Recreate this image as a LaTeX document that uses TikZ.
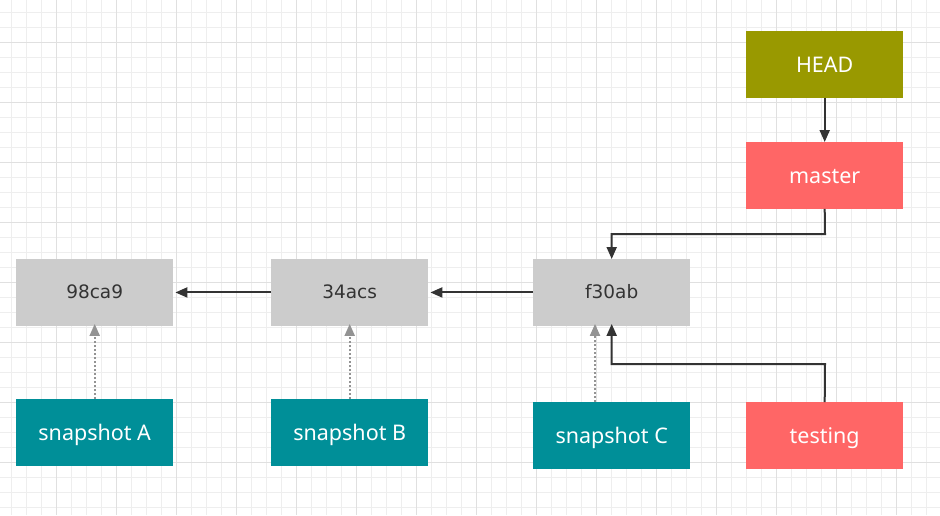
\documentclass[tikz,border=0pt]{standalone}
\usepackage{fontspec}
\setmainfont{Noto Sans}
\newfontfamily\grayfont{DejaVu Sans}
\usetikzlibrary{arrows.meta}
\definecolor{headc}{RGB}{153,153,0}
\definecolor{redc}{RGB}{255,102,102}
\definecolor{tealc}{RGB}{0,143,152}
\definecolor{grayc}{RGB}{204,204,204}
\definecolor{txtc}{RGB}{51,51,51}
\definecolor{minorg}{RGB}{238,238,238}
\definecolor{majorg}{RGB}{224,224,224}
\tikzset{
  box/.style={minimum width=157pt,minimum height=66.5pt,inner sep=0pt,anchor=north west,text depth=0pt},
  commitbox/.style={box,fill=grayc,text=txtc,font=\grayfont\fontsize{18.5}{21}\selectfont,text height=13pt},
  refbox/.style={box,text=white,font=\fontsize{21.5}{25}\selectfont,text height=15.4pt},
  link/.style={draw=txtc,line width=2pt,-{Triangle[length=12pt,width=10pt]}},
  snaplink/.style={draw=gray!85,line width=2pt,dotted,-{Triangle[length=12pt,width=10pt,fill=gray!85]}}
}
\begin{document}
\begin{tikzpicture}[x=1pt,y=-1pt]
\useasboundingbox (0,0) rectangle (940,515);
\fill[white] (0,0) rectangle (940,515);
% grid
\foreach \i in {0,...,62} {
  \draw[minorg,line width=1pt] ({11.7+15*\i},0) -- ({11.7+15*\i},515);
}
\foreach \i in {0,...,34} {
  \draw[minorg,line width=1pt] (0,{12.3+15*\i}) -- (940,{12.3+15*\i});
}
\foreach \i in {-1,...,15} {
  \draw[majorg,line width=1pt] ({56.7+60*\i},0) -- ({56.7+60*\i},515);
}
\foreach \i in {-1,...,8} {
  \draw[majorg,line width=1pt] (0,{42.3+60*\i}) -- (940,{42.3+60*\i});
}
% nodes
\node[commitbox] (c1) at (16,259) {98ca9};
\node[commitbox] (c2) at (271,259) {34acs};
\node[commitbox] (c3) at (533,259) {f30ab};
\node[refbox,fill=tealc] (sA) at (16,399) {snapshot A};
\node[refbox,fill=tealc] (sB) at (271,399) {snapshot B};
\node[refbox,fill=tealc] (sC) at (533,402) {snapshot C};
\node[refbox,fill=redc] (testing) at (746,402) {testing};
\node[refbox,fill=headc] (head) at (746,31) {HEAD};
\node[refbox,fill=redc] (master) at (746,142) {master};
% connectors
\draw[link] (c3.west) -- ([xshift=2pt]c2.east);
\draw[link] (c2.west) -- ([xshift=2pt]c1.east);
\draw[link] (head.south) -- (master.north);
\coordinate (m1) at (825,234);
\draw[link] (master.south) -- (m1) -| (c3.north);
\coordinate (t1) at (825,364);
\draw[link] (testing.north) -- (t1) -| ([yshift=2pt]c3.south);
\draw[snaplink] (sA.north) -- ([yshift=2pt]c1.south);
\draw[snaplink] (sB.north) -- ([yshift=2pt]c2.south);
\coordinate (sx) at (595,0);
\draw[snaplink] (sx |- sC.north) -- ([yshift=2pt]sx |- c3.south);
\end{tikzpicture}
\end{document}
